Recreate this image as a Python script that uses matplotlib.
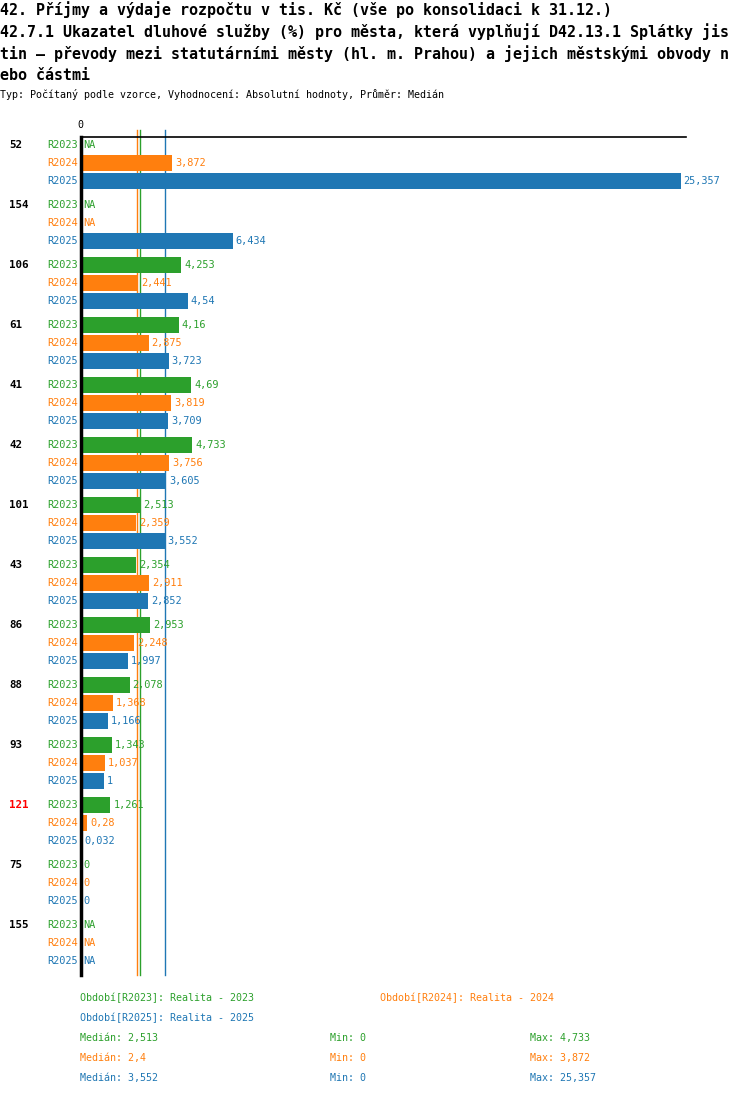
import numpy as np
import matplotlib
matplotlib.use('Agg')
import matplotlib.pyplot as plt

# data
groups = ['52', '154', '106', '61', '41', '42', '101', '43', '86', '88', '93', '121', '75', '155']
highlight = ['121']
series = ['R2023', 'R2024', 'R2025']
r2023 = [np.nan, np.nan, 4.253, 4.16, 4.69, 4.733, 2.513, 2.354, 2.953, 2.078, 1.343, 1.261, 0, np.nan]
r2024 = [3.872, np.nan, 2.441, 2.875, 3.819, 3.756, 2.359, 2.911, 2.248, 1.368, 1.037, 0.28, 0, np.nan]
r2025 = [25.357, 6.434, 4.54, 3.723, 3.709, 3.605, 3.552, 2.852, 1.997, 1.166, 1, 0.032, 0, np.nan]
legend_names = ['Období[R2023]: Realita - 2023', 'Období[R2024]: Realita - 2024', 'Období[R2025]: Realita - 2025']

title_lines = ['42. Příjmy a výdaje rozpočtu v tis. Kč (vše po konsolidaci k 31.12.)',
               '42.7.1 Ukazatel dluhové služby (%) pro města, která vyplňují D42.13.1 Splátky jis',
               'tin – převody mezi statutárními městy (hl. m. Prahou) a jejich městskými obvody n',
               'ebo částmi']
subtitle = 'Typ: Počítaný podle vzorce, Vyhodnocení: Absolutní hodnoty, Průměr: Medián'

colors = ['#2ca02c', '#ff7f0e', '#1f77b4']
values = [r2023, r2024, r2025]

plt.rcParams['font.family'] = ['DejaVu Sans Mono']

W, H = 750, 1096
fig = plt.figure(figsize=[W / 100, H / 100], dpi=100)

def fx(px):
    return px / W

def fy(py):
    return 1 - py / H

# title
for i, line in enumerate(title_lines):
    fig.text(fx(0), fy(10 + 22 * i), line, fontsize=10.8, fontweight='bold', va='center', ha='left')
fig.text(fx(0), fy(95), subtitle, fontsize=7.2, va='center', ha='left')

# axes: zero at x=80.5, top line at y=137, bottom at y=975
ax_left, ax_right, ax_top, ax_bot = 80.5, 686, 137, 975
ax = fig.add_axes([fx(ax_left), fy(ax_bot), fx(ax_right - ax_left), (ax_bot - ax_top) / H])
px_per_unit = 600 / 25.357
ax.set_xlim(0, (ax_right - ax_left) / px_per_unit)
ax.set_ylim(ax_bot - ax_top, 0)
ax.axis('off')
ax.axhline(0, color='black', lw=1.2, clip_on=False)
ax.axvline(0, color='black', lw=2.5, clip_on=False, zorder=5)

def fmt(v):
    s = ('%.3f' % v).rstrip('0').rstrip('.')
    return s.replace('.', ',')

for gi, g in enumerate(groups):
    for si in range(3):
        yc = 8 + 60 * gi + 18 * si
        v = values[si][gi]
        c = colors[si]
        if si == 0:
            ax.text(-71 / px_per_unit, yc, g, fontsize=7.8, fontweight='bold',
                    color='red' if g in highlight else 'black', va='center', ha='left')
        ax.text(-3 / px_per_unit, yc, series[si], fontsize=7.4, color=c, va='center', ha='right')
        if np.isnan(v):
            ax.text(3 / px_per_unit, yc, 'NA', fontsize=7.4, color=c, va='center', ha='left')
        else:
            ax.barh(yc, v, height=16, color=c, left=0, zorder=2)
            ax.text(v + 3 / px_per_unit, yc, fmt(v), fontsize=7.4, color=c, va='center', ha='left')

ax.text(0, -12, '0', fontsize=7.2, va='center', ha='center')

# medians (drawn behind the bars)
medians = [np.nanmedian(v) for v in values]
mins = [np.nanmin(v) for v in values]
maxs = [np.nanmax(v) for v in values]
for m, c in zip(medians, colors):
    ax.plot([m, m], [-7, ax_bot - ax_top], color=c, lw=1, clip_on=False, zorder=1)

# legend / stats
fig.text(fx(80), fy(998), legend_names[0], fontsize=7.2, color=colors[0], va='center')
fig.text(fx(380), fy(998), legend_names[1], fontsize=7.2, color=colors[1], va='center')
fig.text(fx(80), fy(1018), legend_names[2], fontsize=7.2, color=colors[2], va='center')
for i in range(3):
    yy = fy(1038 + 20 * i)
    fig.text(fx(80), yy, 'Medián: ' + fmt(medians[i]), fontsize=7.2, color=colors[i], va='center')
    fig.text(fx(330), yy, 'Min: ' + fmt(mins[i]), fontsize=7.2, color=colors[i], va='center')
    fig.text(fx(530), yy, 'Max: ' + fmt(maxs[i]), fontsize=7.2, color=colors[i], va='center')

fig.savefig('out.png', dpi=100)
